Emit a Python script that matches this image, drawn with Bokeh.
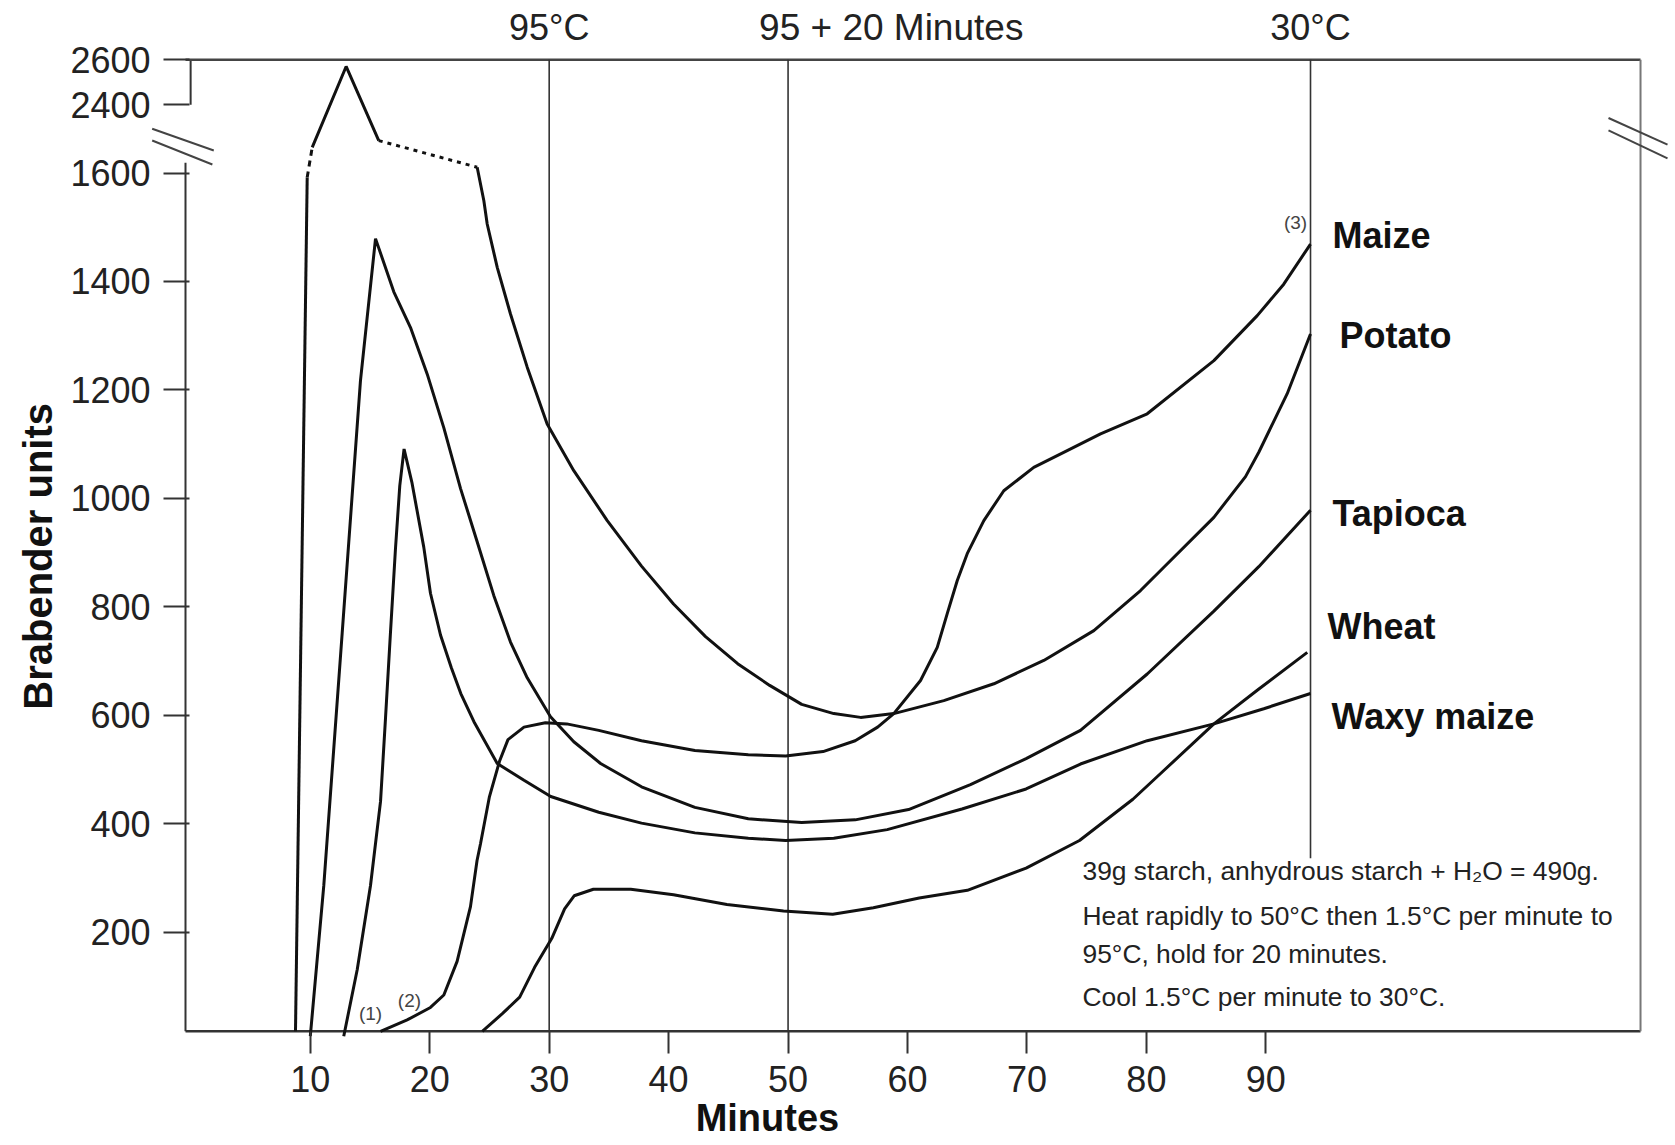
import math
from bokeh.plotting import figure
from bokeh.models import FixedTicker, Label, Range1d
from bokeh.embed import file_html
from bokeh.resources import INLINE

# ---------------- data (time in minutes, viscosity in Brabender units) ----------------
x_ticks = [10, 20, 30, 40, 50, 60, 70, 80, 90]
y_ticks = [200, 400, 600, 800, 1000, 1200, 1400, 1600, 2400, 2600]

# Potato: solid rise, dashed gap, solid peak, dotted plateau, solid fall
potato_rise_t = [8.76, 9.74]
potato_rise_v = [17, 1592]
potato_gap_t = [9.74, 10.16]
potato_gap_v = [1592, 1901]
potato_peak_t = [10.16, 13.0, 15.73]
potato_peak_v = [1901, 2570, 1980]
potato_dot_t = [15.73, 23.97]
potato_dot_v = [1980, 1668]
potato_fall_t = [23.97, 24.53, 24.81, 25.65, 26.76, 28.16, 29.83, 32.06, 34.86, 37.73,
                 40.41, 43.09, 45.78, 48.46, 51.14, 53.83, 56.07, 58.85, 63.04, 67.23,
                 71.41, 75.60, 79.51, 81.46, 85.65, 88.30, 89.41, 91.79, 93.74]
potato_fall_v = [1668, 1549, 1506, 1426, 1340, 1242, 1137, 1051, 959, 875,
                 805, 745, 695, 655, 620, 603, 596, 603, 627, 658,
                 701, 756, 830, 873, 965, 1040, 1085, 1193, 1303]

maize_t = [15.88, 18.11, 20.06, 21.18, 22.29, 23.41, 23.96, 24.25, 25.00, 25.84,
           26.55, 27.89, 29.68, 31.47, 34.15, 37.73, 42.20, 46.67, 49.80, 52.93,
           55.62, 57.50, 58.85, 61.09, 62.49, 63.32, 64.16, 65.00, 66.39, 68.06,
           70.57, 73.37, 76.16, 80.07, 85.65, 89.28, 91.50, 93.74]
maize_v = [17, 38, 61, 84, 146, 247, 332, 363, 450, 515,
           555, 578, 586, 584, 572, 553, 535, 527, 525, 533,
           553, 578, 603, 664, 725, 787, 848, 898, 959, 1014,
           1057, 1088, 1119, 1156, 1254, 1337, 1395, 1469]

tapioca_t = [10.00, 11.13, 12.67, 14.20, 15.46, 16.99, 18.39, 19.79, 21.18, 22.58,
             23.97, 25.36, 26.76, 28.16, 30.11, 32.06, 34.30, 37.73, 42.20, 46.67,
             51.14, 55.62, 60.09, 65.27, 69.93, 74.48, 80.07, 85.65, 89.41, 93.74]
tapioca_v = [8, 286, 752, 1217, 1479, 1381, 1315, 1229, 1130, 1018,
             920, 821, 735, 669, 597, 551, 511, 468, 430, 409,
             402, 407, 426, 472, 520, 572, 676, 792, 874, 978]

waxy_t = [12.80, 13.93, 15.04, 15.88, 16.30, 16.71, 17.13, 17.49, 17.85, 18.50,
          19.50, 20.06, 20.90, 21.80, 22.60, 23.70, 25.65, 27.89, 30.13, 34.15,
          37.73, 42.20, 46.67, 49.80, 53.83, 58.30, 64.56, 69.93, 74.48, 80.07,
          85.65, 89.83, 93.74]
waxy_v = [8, 131, 286, 441, 596, 752, 907, 1023, 1091, 1030,
          910, 825, 748, 688, 640, 588, 511, 480, 450, 421,
          401, 383, 373, 369, 373, 389, 427, 464, 510, 553,
          584, 612, 640]

wheat_t = [24.40, 26.10, 27.53, 28.78, 30.21, 31.29, 32.09, 33.70, 36.83, 40.41,
           44.88, 49.62, 53.74, 57.14, 60.98, 65.01, 69.93, 74.40, 78.87, 81.46,
           85.65, 89.28, 93.47]
wheat_v = [17, 50, 80, 135, 188, 243, 267, 279, 279, 269,
           251, 239, 233, 245, 263, 277, 318, 369, 445, 498,
           584, 646, 716]

curve_names = ["Maize", "Potato", "Tapioca", "Wheat", "Waxy maize"]
curve_label_t = [95.58, 96.17, 95.58, 95.16, 95.50]
curve_label_v = [1485, 1301, 972, 764, 598]

event_t = [30, 50, 93.74]
event_names = ["95°C", "95 + 20 Minutes", "30°C"]
event_line_start_v = [17, 17, 336]

note_lines = ["39g starch, anhydrous starch + H\u2082O = 490g.",
              "Heat rapidly to 50°C then 1.5°C per minute to",
              "95°C, hold for 20 minutes.",
              "Cool 1.5°C per minute to 30°C."]
note_v = [312, 229, 159, 81]

# ---------------- broken y scale ----------------
def disp(v):
    if v <= 1600:
        return v
    if v <= 2400:
        return 1600 + (v - 1600) * 126 / 800
    return 1726 + (v - 2400) * 83 / 200

def dl(vs):
    return [disp(v) for v in vs]

FONT = "Liberation Sans"
W, H = 1670, 1143
X0, X1 = -15.938, 123.88
Y0, Y1 = -189.9, 1918.2
X_AXIS = -0.449
X_BRACKET = -0.02
X_RIGHT = 121.37
V_BOTTOM = 17
TOP = disp(2600)

p = figure(width=W, height=H, output_backend="svg", toolbar_location=None,
           x_range=Range1d(X0, X1), y_range=Range1d(Y0, Y1),
           min_border=0, min_border_left=0, min_border_right=0,
           min_border_top=0, min_border_bottom=0)
p.grid.visible = False
p.outline_line_color = None
p.background_fill_color = "white"
p.border_fill_color = "white"

# axes drawn at fixed positions inside the canvas
p.xaxis.fixed_location = V_BOTTOM
p.xaxis.ticker = FixedTicker(ticks=x_ticks)
p.xaxis.axis_line_color = None
p.xaxis.major_tick_out = 22
p.xaxis.major_tick_in = 0
p.xaxis.minor_tick_line_color = None
p.xaxis.major_tick_line_width = 2
p.xaxis.major_tick_line_color = "#333333"
p.xaxis.major_label_standoff = 13
p.xaxis.major_label_text_font = FONT
p.xaxis.major_label_text_font_size = "36px"
p.xaxis.major_label_text_color = "#222222"

ytick_pos = [int(round(disp(v))) for v in y_ticks]
p.yaxis.fixed_location = X_AXIS
p.yaxis.ticker = FixedTicker(ticks=ytick_pos)
p.yaxis.major_label_overrides = {pos: str(v) for pos, v in zip(ytick_pos, y_ticks)}
p.yaxis.axis_line_color = None
p.yaxis.major_tick_out = 22
p.yaxis.major_tick_in = 4
p.yaxis.minor_tick_line_color = None
p.yaxis.major_tick_line_width = 2
p.yaxis.major_tick_line_color = "#333333"
p.yaxis.major_label_standoff = 13
p.yaxis.major_label_text_font = FONT
p.yaxis.major_label_text_font_size = "36px"
p.yaxis.major_label_text_color = "#222222"

# frame pieces
p.line([X_AXIS, X_AXIS], [V_BOTTOM, 1619], line_color="#333333", line_width=2)
p.line([X_BRACKET, X_BRACKET], [disp(2400), TOP], line_color="#333333", line_width=2)
p.line([X_AXIS, X_RIGHT], [TOP, TOP], line_color="#444444", line_width=2.5)
p.line([X_AXIS, X_RIGHT], [V_BOTTOM, V_BOTTOM], line_color="#333333", line_width=2.5)
p.line([X_RIGHT, X_RIGHT], [V_BOTTOM, TOP], line_color="#777777", line_width=2)

# axis-break marks
for (xa, ya, xb, yb) in [(-3.24, 1681.6, 1.92, 1641.6), (-3.24, 1660.0, 1.80, 1615.8),
                         (118.69, 1701.5, 123.63, 1652.5), (118.69, 1678.5, 123.63, 1626.9)]:
    p.line([xa, xb], [ya, yb], line_color="#444444", line_width=2)

# event lines and their labels
for t, v0 in zip(event_t, event_line_start_v):
    p.line([t, t], [v0, TOP], line_color="#333333", line_width=1.6)
for t, name, align, off, fs in zip(event_t, event_names, ["center", "left", "center"],
                                   [0, -29, 0], ["36px", "37px", "36px"]):
    p.add_layout(Label(x=t, y=1868, x_offset=off, text=name, text_align=align,
                       text_baseline="middle", text_font=FONT, text_font_size=fs,
                       text_color="#222222"))

# curves
CW = 3
CC = "#111111"
p.line(potato_rise_t, dl(potato_rise_v), line_color=CC, line_width=CW)
p.line(potato_gap_t, dl(potato_gap_v), line_color=CC, line_width=CW, line_dash="6 5")
p.line(potato_peak_t, dl(potato_peak_v), line_color=CC, line_width=CW)
p.line(potato_dot_t, dl(potato_dot_v), line_color=CC, line_width=CW, line_dash="4 5")
p.line(potato_fall_t, dl(potato_fall_v), line_color=CC, line_width=CW)
p.line(maize_t, dl(maize_v), line_color=CC, line_width=CW)
p.line(tapioca_t, dl(tapioca_v), line_color=CC, line_width=CW)
p.line(waxy_t, dl(waxy_v), line_color=CC, line_width=CW)
p.line(wheat_t, dl(wheat_v), line_color=CC, line_width=CW)

# curve labels
for name, t, v in zip(curve_names, curve_label_t, curve_label_v):
    p.add_layout(Label(x=t, y=disp(v), text=name, text_align="left", text_baseline="middle",
                       text_font=FONT, text_font_size="36px", text_font_style="bold",
                       text_color="#111111"))

for txt, t, v in [("(1)", 15.04, 50), ("(2)", 18.30, 74), ("(3)", 92.49, 1509)]:
    p.add_layout(Label(x=t, y=disp(v), text=txt, text_align="center", text_baseline="middle",
                       text_font=FONT, text_font_size="19px", text_color="#444444"))

# method note
for txt, v in zip(note_lines, note_v):
    p.add_layout(Label(x=74.65, y=v, text=txt, text_align="left", text_baseline="middle",
                       text_font=FONT, text_font_size="26.4px", text_color="#222222"))

# axis titles
p.add_layout(Label(x=-12.84, y=893, text="Brabender units", angle=math.pi / 2,
                   text_align="center", text_baseline="middle", text_font=FONT,
                   text_font_size="40px", text_font_style="bold", text_color="#111111"))
p.add_layout(Label(x=48.27, y=-143, text="Minutes", text_align="center", text_baseline="middle",
                   text_font=FONT, text_font_size="38px", text_font_style="bold",
                   text_color="#111111"))

open("out.html", "w").write(file_html(p, INLINE))
